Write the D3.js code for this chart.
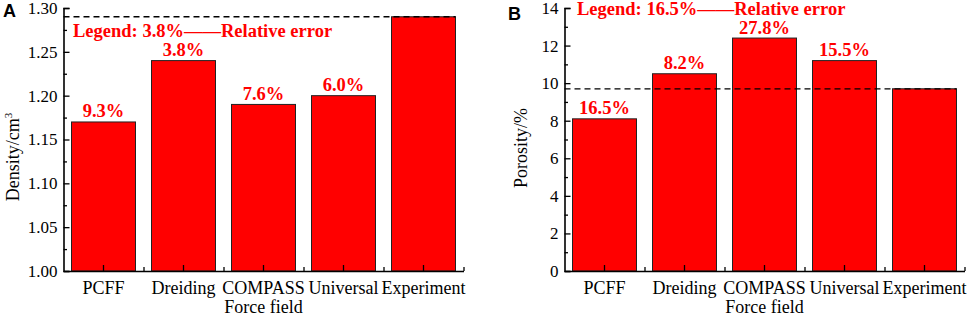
<!DOCTYPE html>
<html>
<head>
<meta charset="utf-8">
<script src="https://cdn.jsdelivr.net/npm/d3@7/dist/d3.min.js"></script>
<style>
html,body{margin:0;padding:0;background:#fff;}
svg{display:block;}
</style>
</head>
<body>
<svg id="chart" width="969" height="317"></svg>
<script>
const categories = ["PCFF", "Dreiding", "COMPASS", "Universal", "Experiment"];
const densityValues = [1.17, 1.24, 1.19, 1.20, 1.29];
const densityLabels = ["9.3%", "3.8%", "7.6%", "6.0%", ""];
const densityTicks = [1.00, 1.05, 1.10, 1.15, 1.20, 1.25, 1.30];
const porosityValues = [8.1, 10.5, 12.4, 11.2, 9.7];
const porosityLabels = ["16.5%", "8.2%", "27.8%", "15.5%", ""];
const porosityTicks = [0, 2, 4, 6, 8, 10, 12, 14];

const svg = d3.select("#chart");
const serif = "'Liberation Serif','Times New Roman',serif";

function panel(opts) {
  const g = svg.append("g");
  const x = d3.scaleBand().domain(categories).range(opts.xr).paddingInner(0.2).paddingOuter(0.1);
  const y = d3.scaleLinear().domain(opts.domain).range([271, 8]);
  const x0 = opts.xr[0];

  // bars
  g.selectAll("rect.bar").data(opts.values).enter().append("rect")
    .attr("x", (d, i) => x(categories[i]))
    .attr("y", d => y(d))
    .attr("width", x.bandwidth())
    .attr("height", d => y(opts.domain[0]) - y(d))
    .attr("fill", "#ff0000")
    .attr("stroke", "#222")
    .attr("stroke-width", 1);

  // dashed reference line (experiment value)
  const expVal = opts.values[opts.values.length - 1];
  g.append("line")
    .attr("x1", x0).attr("x2", x(categories[4]) + x.bandwidth())
    .attr("y1", y(expVal)).attr("y2", y(expVal))
    .attr("stroke", "#000").attr("stroke-width", 1.3)
    .attr("stroke-dasharray", "6,4");

  // value labels
  g.selectAll("text.val").data(opts.labels).enter().append("text")
    .attr("x", (d, i) => x(categories[i]) + x.bandwidth() / 2)
    .attr("y", (d, i) => y(opts.values[i]) - 4.5)
    .attr("text-anchor", "middle")
    .attr("font-family", serif).attr("font-weight", "bold").attr("font-size", 18.5)
    .attr("fill", "#ff0000")
    .text(d => d);

  // legend text
  g.append("text")
    .attr("x", opts.legendX).attr("y", opts.legendY)
    .attr("font-family", serif).attr("font-weight", "bold").attr("font-size", 18.5)
    .attr("fill", "#ff0000")
    .text(opts.legend);

  // y axis major
  const yAxis = g.append("g").attr("transform", `translate(${x0},0)`)
    .call(d3.axisLeft(y).tickValues(opts.ticks).tickSize(-6).tickPadding(6).tickFormat(opts.fmt));
  // y axis minor
  const minor = [];
  for (let i = 0; i < opts.ticks.length - 1; i++) minor.push((opts.ticks[i] + opts.ticks[i + 1]) / 2);
  g.append("g").attr("transform", `translate(${x0},0)`)
    .call(d3.axisLeft(y).tickValues(minor).tickSize(-3.5).tickFormat(""))
    .call(s => s.select(".domain").remove());

  // x axis
  const xAxis = g.append("g").attr("transform", `translate(0,271)`)
    .call(d3.axisBottom(x).tickSize(-6).tickPadding(10).tickSizeOuter(0));
  const xi = d3.scaleLinear().domain([0, 5]).range(opts.xr);
  g.append("g").attr("transform", `translate(0,271)`)
    .call(d3.axisBottom(xi).tickValues([1, 2, 3, 4, 5]).tickSize(-4).tickFormat(""))
    .call(s => s.select(".domain").remove());

  [yAxis, xAxis].forEach(a => {
    a.select(".domain").attr("stroke", "#000").attr("stroke-width", 1.6);
    a.selectAll(".tick text").attr("font-family", serif).attr("font-size", 17).attr("fill", "#000");
  });
  xAxis.selectAll(".tick text").attr("font-size", 18);
  g.selectAll("g.tick line").attr("stroke", "#000").attr("stroke-width", 1.3);

  // axis titles
  const yt = g.append("text")
    .attr("transform", `translate(${opts.ytX},${opts.ytY}) rotate(-90)`)
    .attr("text-anchor", "middle")
    .attr("font-family", serif).attr("font-size", 18).attr("fill", "#000");
  yt.append("tspan").text(opts.ytitle);
  if (opts.ysup) yt.append("tspan").attr("dy", -7).attr("font-size", 11).text(opts.ysup);

  g.append("text")
    .attr("x", (opts.xr[0] + opts.xr[1]) / 2).attr("y", 313)
    .attr("text-anchor", "middle")
    .attr("font-family", serif).attr("font-size", 18).attr("fill", "#000")
    .text("Force field");

  // panel letter
  g.append("text")
    .attr("x", opts.letterX).attr("y", opts.letterY)
    .attr("font-family", "'Liberation Sans',Arial,sans-serif").attr("font-weight", "bold")
    .attr("font-size", 18).attr("fill", "#000")
    .text(opts.letter);
}

panel({
  xr: [63.5, 463.5], domain: [1.0, 1.3], values: densityValues, labels: densityLabels,
  ticks: densityTicks, fmt: d3.format(".2f"),
  legend: "Legend: 3.8%\u2014\u2014Relative error", legendX: 73, legendY: 36.5,
  ytitle: "Density/cm", ysup: "3", ytX: 19, ytY: 157,
  letter: "A", letterX: 3, letterY: 17
});
panel({
  xr: [564.5, 964.5], domain: [0, 14], values: porosityValues, labels: porosityLabels,
  ticks: porosityTicks, fmt: d3.format("d"),
  legend: "Legend: 16.5%\u2014\u2014Relative error", legendX: 577, legendY: 15,
  ytitle: "Porosity/%", ysup: null, ytX: 527, ytY: 148,
  letter: "B", letterX: 508, letterY: 20
});
</script>
</body>
</html>
